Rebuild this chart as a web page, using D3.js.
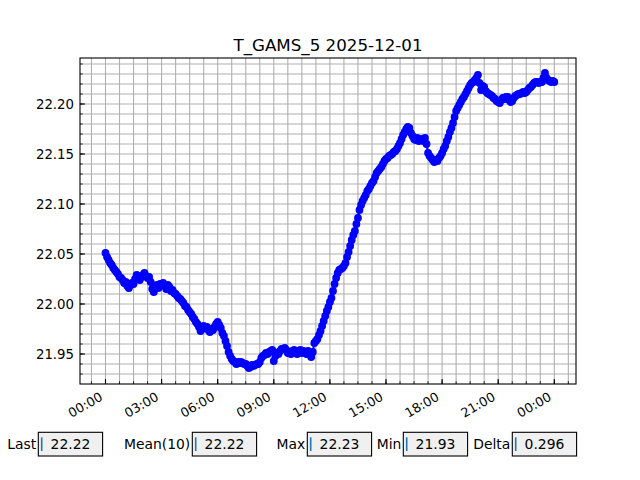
<!DOCTYPE html>
<html><head><meta charset="utf-8">
<script src="https://cdn.jsdelivr.net/npm/d3@7"></script>
<style>body{margin:0;background:#fff}text{font-family:"DejaVu Sans",sans-serif}</style>
</head><body><svg id="c" width="640" height="480"></svg>
<script>
const title = "T_GAMS_5 2025-12-01";
// sampling: one reading every 5 minutes from 00:00 (2025-12-01) to 00:00 next day
const startMinute = 0;
const stepMinutes = 5;
// readings, one row per hour (12 per row)
const values = [
  22.051,22.047,22.044,22.041,22.039,22.036,22.034,22.032,22.030,22.027,22.026,22.024,
  22.021,22.022,22.018,22.016,22.019,22.021,22.020,22.025,22.029,22.027,22.024,22.027,
  22.029,22.031,22.028,22.026,22.027,22.022,22.015,22.012,22.018,22.019,22.016,22.020,
  22.019,22.021,22.018,22.015,22.019,22.017,22.013,22.014,22.011,22.010,22.008,22.006,
  22.005,22.003,22.001,21.998,21.997,21.994,21.992,21.990,21.987,21.985,21.982,21.980,
  21.977,21.973,21.975,21.978,21.976,21.977,21.974,21.972,21.975,21.974,21.977,21.980,
  21.982,21.979,21.976,21.971,21.968,21.963,21.958,21.952,21.948,21.945,21.943,21.942,
  21.940,21.942,21.941,21.942,21.941,21.940,21.940,21.938,21.936,21.937,21.939,21.938,
  21.939,21.940,21.940,21.942,21.946,21.948,21.949,21.951,21.950,21.952,21.953,21.954,
  21.943,21.948,21.951,21.950,21.953,21.955,21.955,21.956,21.954,21.951,21.952,21.950,
  21.953,21.954,21.952,21.950,21.953,21.954,21.951,21.953,21.952,21.950,21.953,21.951,
  21.947,21.952,21.961,21.963,21.965,21.969,21.973,21.978,21.983,21.988,21.993,21.997,
  22.002,22.006,22.013,22.020,22.026,22.031,22.034,22.035,22.036,22.038,22.041,22.047,
  22.052,22.058,22.064,22.069,22.073,22.080,22.086,22.094,22.099,22.103,22.106,22.109,
  22.113,22.115,22.118,22.121,22.123,22.127,22.131,22.133,22.135,22.137,22.140,22.143,
  22.145,22.146,22.148,22.149,22.150,22.152,22.153,22.155,22.158,22.161,22.165,22.169,
  22.172,22.175,22.177,22.176,22.171,22.168,22.165,22.164,22.166,22.163,22.164,22.165,
  22.163,22.166,22.160,22.151,22.148,22.146,22.144,22.142,22.144,22.143,22.146,22.148,
  22.151,22.155,22.158,22.163,22.167,22.172,22.176,22.181,22.187,22.193,22.196,22.199,
  22.202,22.205,22.207,22.210,22.213,22.216,22.219,22.221,22.222,22.224,22.226,22.229,
  22.221,22.214,22.218,22.217,22.213,22.211,22.210,22.209,22.208,22.206,22.205,22.203,
  22.202,22.201,22.204,22.206,22.205,22.207,22.207,22.204,22.202,22.203,22.206,22.208,
  22.209,22.210,22.210,22.211,22.212,22.211,22.212,22.214,22.216,22.217,22.219,22.221,
  22.222,22.222,22.221,22.222,22.222,22.226,22.231,22.226,22.224,22.223,22.222,22.223,
  22.222
];
const yTickValues = [21.95,22.00,22.05,22.10,22.15,22.20];
const statLabels = ["Last","Mean(10)","Max","Min","Delta"];
const statValues = ["22.22","22.22","22.23","21.93","0.296"];

const base = Date.UTC(2025,11,1);
const toDate = m => new Date(base + m*60000);
const data = values.map((v,i)=>({t:toDate(startMinute + i*stepMinutes), v:v}));

const svg = d3.select("#c");
const L=80, R=576, T=58, B=384;
const x = d3.scaleUtc().domain([toDate(-81.8), toDate(1509.6)]).range([L,R]);
const y = d3.scaleLinear().domain([21.92,22.246]).range([B,T]);

const majorX = d3.range(0, 1441, 180).map(toDate);
const minorX = d3.range(-45, 1486, 45).map(toDate);
const minorY = d3.range(2193, 2225).map(d=>d/100);

// grid
const g = svg.append("g");
g.selectAll(".gx").data(minorX).join("line")
  .attr("x1",d=>x(d)).attr("x2",d=>x(d)).attr("y1",T).attr("y2",B)
  .attr("stroke","#b0b0b0").attr("stroke-width",1.1);
g.selectAll(".gy").data(minorY).join("line")
  .attr("y1",d=>y(d)).attr("y2",d=>y(d)).attr("x1",L).attr("x2",R)
  .attr("stroke","#b0b0b0").attr("stroke-width",1.1);

// data
svg.append("path").datum(data)
  .attr("d", d3.line().x(d=>x(d.t)).y(d=>y(d.v)))
  .attr("fill","none").attr("stroke","#0000ff").attr("stroke-width",2);
svg.append("g").selectAll("circle").data(data).join("circle")
  .attr("cx",d=>x(d.t)).attr("cy",d=>y(d.v)).attr("r",3.9).attr("fill","#0000ff");

// ticks (inward)
const ax = svg.append("g");
ax.selectAll(".mtx").data(minorX).join("line")
  .attr("x1",d=>x(d)).attr("x2",d=>x(d)).attr("y1",B).attr("y2",B-2.8)
  .attr("stroke","#000").attr("stroke-width",0.8);
ax.selectAll(".Mtx").data(majorX).join("line")
  .attr("x1",d=>x(d)).attr("x2",d=>x(d)).attr("y1",B).attr("y2",B-4.9)
  .attr("stroke","#000").attr("stroke-width",1.1);
ax.selectAll(".mty").data(minorY).join("line")
  .attr("y1",d=>y(d)).attr("y2",d=>y(d)).attr("x1",L).attr("x2",L+2.8)
  .attr("stroke","#000").attr("stroke-width",0.8);
ax.selectAll(".Mty").data(yTickValues).join("line")
  .attr("y1",d=>y(d)).attr("y2",d=>y(d)).attr("x1",L).attr("x2",L+4.9)
  .attr("stroke","#000").attr("stroke-width",1.1);

// labels
const fmt = d3.utcFormat("%H:%M");
ax.selectAll(".xl").data(majorX).join("text")
  .attr("transform",d=>`translate(${x(d)-2},${B+15.5}) rotate(-30)`)
  .attr("text-anchor","end").attr("font-size","12.8px").attr("fill","#000")
  .text(d=>fmt(d));
ax.selectAll(".yl").data(yTickValues).join("text")
  .attr("x",L-6).attr("y",d=>y(d)).attr("dy","0.36em")
  .attr("text-anchor","end").attr("font-size","13.3px").attr("fill","#000")
  .text(d=>d3.format(".2f")(d));

// frame
svg.append("rect").attr("x",L).attr("y",T).attr("width",R-L).attr("height",B-T)
  .attr("fill","none").attr("stroke","#000").attr("stroke-width",1.1);

// title
svg.append("text").attr("x",(L+R)/2).attr("y",51).attr("text-anchor","middle")
  .attr("font-size","16.7px").attr("fill","#000").text(title);

// stat boxes
const boxX = [38.3,192.3,307.3,403.3,512.3];
const bw = 64.3, by = 432.3, bh = 23.7;
const sb = svg.append("g");
statLabels.forEach((lab,i)=>{
  const bx = boxX[i];
  sb.append("text").attr("x",bx-2).attr("y",by+bh/2).attr("dy","0.36em")
    .attr("text-anchor","end").attr("font-size","13.9px").attr("fill","#000").text(lab);
  sb.append("rect").attr("x",bx).attr("y",by).attr("width",bw).attr("height",bh)
    .attr("fill","#f0f0f0").attr("stroke","#000").attr("stroke-width",1.1);
  sb.append("line").attr("x1",bx+3.4).attr("x2",bx+3.4).attr("y1",by+5).attr("y2",by+bh-5)
    .attr("stroke","#1f77b4").attr("stroke-width",1.6);
  sb.append("text").attr("x",bx+12.3).attr("y",by+bh/2).attr("dy","0.36em")
    .attr("font-size","13.9px").attr("fill","#000").text(statValues[i]);
});
</script></body></html>
